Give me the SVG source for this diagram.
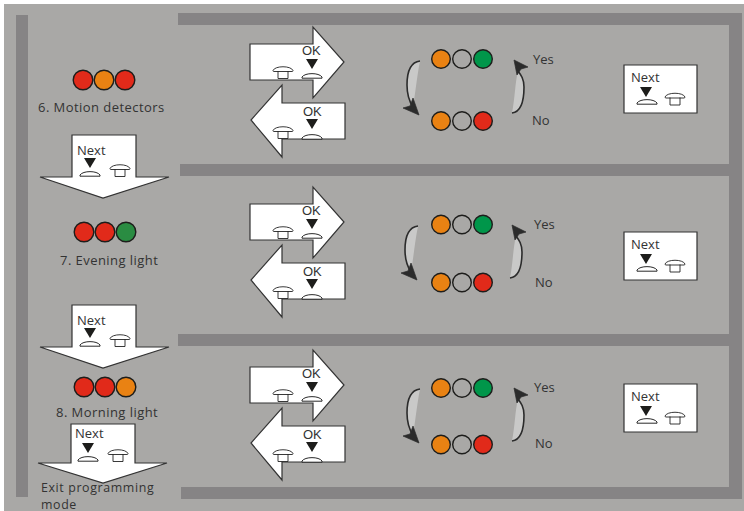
<svg xmlns="http://www.w3.org/2000/svg" width="744" height="511" viewBox="0 0 744 511">
<style>
text{font-family:"Open Sans","Noto Sans",sans-serif;font-size:13px;fill:#333}
.ok{font-family:"Liberation Sans",Arial,sans-serif;font-size:13px}
.lb{letter-spacing:.45px}
.lx{letter-spacing:.62px;font-size:12.400px}
.w{fill:#fff;stroke:#333;stroke-width:1.2}
.b{fill:#fff;stroke:#222;stroke-width:.9}
.d{fill:#fff;stroke:#111;stroke-width:.9}
.t{fill:#1d1d1b}
.h{fill:#2b2b2b;stroke:#2b2b2b;stroke-width:.7;stroke-linejoin:round}
.bar{fill:#868485}
.l{stroke:#1d1d1b;stroke-width:1.4}
.o{fill:#e98213}.r{fill:#e12a1a}.g{fill:#00964a}.dg{fill:#2a8c42}.n{fill:#a9a8a6}
.cr{fill:#c9c9c8}
.st{fill:none;stroke:#2b2b2b;stroke-width:1.6}
</style>
<defs>
<path id="tri" class="t" d="M-6 0H6L0 10Z"/>
<path id="dome" class="d" d="M-10 5C-7 .5 7 .5 10 5V6.200H-10Z"/>
<path id="cap" class="b" d="M-5 5V12.500H5V5M-10 4.500C-8 -.5 8 -.5 10 4.500Q10 5.500 9 5.500H-9Q-10 5.500-10 4.500Z"/>
<g id="next"><path class="w" d="M0 0H73V48H0Z"/><text x="7" y="17">Next</text><use href="#tri" x="22" y="22"/><use href="#dome" x="23" y="33"/><use href="#cap" x="51" y="27.500"/></g>
<g id="pair">
<path class="w" d="M0 17H63V0L94 35L63 71V53H0Z"/>
<path class="w" d="M95 76H32V58L1 93L32 130V112H95Z"/>
<text class="ok" x="52" y="28">OK</text><use href="#tri" x="62" y="32"/><use href="#dome" x="62" y="45"/><use href="#cap" x="33" y="39"/>
<text class="ok" x="53" y="89">OK</text><use href="#tri" x="62" y="92"/><use href="#dome" x="62" y="106"/><use href="#cap" x="33" y="99"/>
</g>
<g id="downarrow"><path class="w" d="M0 0H64V42H97L31 63L-32 42H0Z"/><text x="5" y="20">Next</text><use href="#tri" x="18" y="23"/><use href="#dome" x="18" y="35"/><use href="#cap" x="48" y="29"/></g>
<g id="cw"><path class="cr" d="M0 0C-9 1-13 10-13 24C-13 33-11 40-7 46C-5 35-3 15 0 0Z"/><path class="st" d="M0 0C-9 1-13 10-13 24C-13 33-11 40-7 46"/><path class="h" d="M-1 54L-17 47L-10 45L-7 37Z"/></g>
<g id="ccw"><path class="cr" d="M0 0C8 -1 12 -10 12 -26C12 -34 9 -38 6 -42C3 -30 3 -15 0 0Z"/><path class="st" d="M0 0C8 -1 12 -10 12 -26C12 -34 9 -38 6 -42"/><path class="h" d="M2 -53L16 -46L9 -44L5 -38Z"/></g>
<g id="lamps"><circle class="l o" cx="0" cy="0" r="9.300"/><circle class="l n" cx="21" cy="0" r="9.300"/></g>
</defs>
<rect width="744" height="511" fill="#fff"/>
<rect x="4" y="4" width="740" height="507" fill="#a9a8a6"/>
<g id="frame">
<rect class="bar" x="16" y="15" width="12" height="482"/>
<rect class="bar" x="178" y="13" width="551" height="12"/>
<rect class="bar" x="729" y="13" width="13" height="486"/>
<rect class="bar" x="180" y="164" width="549" height="12"/>
<rect class="bar" x="178" y="334" width="551" height="12"/>
<rect class="bar" x="181" y="487" width="548" height="12"/>
</g>
<g id="connectors">
<use href="#cw" x="420" y="61"/><use href="#ccw" x="512" y="113"/>
<use href="#cw" x="418" y="226"/><use href="#ccw" x="510" y="278"/>
<use href="#cw" x="420" y="389"/><use href="#ccw" x="512" y="441"/>
</g>
<g id="step6">
<circle class="l r" cx="83" cy="80" r="9.800"/><circle class="l o" cx="104" cy="80" r="9.800"/><circle class="l r" cx="125" cy="80" r="9.800"/>
<text class="lb" x="38" y="112">6. Motion detectors</text>
</g>
<use id="next6" href="#downarrow" x="72" y="135"/>
<g id="step7">
<circle class="l r" cx="84" cy="232" r="9.800"/><circle class="l r" cx="105" cy="232" r="9.800"/><circle class="l dg" cx="126" cy="232" r="9.800"/>
<text class="lb" x="60" y="265">7. Evening light</text>
</g>
<use id="next7" href="#downarrow" x="72" y="305"/>
<g id="step8">
<circle class="l r" cx="84" cy="387" r="9.800"/><circle class="l r" cx="105" cy="387" r="9.800"/><circle class="l o" cx="126" cy="387" r="9.800"/>
<text class="lb" x="56" y="417">8. Morning light</text>
</g>
<g id="next8">
<path class="w" d="M71 424H135V463H167L103 483L38 463H71Z"/>
<text x="75" y="438">Next</text><use href="#tri" x="88" y="443"/><use href="#dome" x="88" y="455"/><use href="#cap" x="118" y="449"/>
</g>
<g id="exit"><text class="lx" x="41" y="491.500">Exit programming</text><text class="lx" x="41" y="508.500">mode</text></g>
<g id="row1">
<use href="#pair" x="250" y="27"/>
<use href="#lamps" x="441" y="59"/><circle class="l g" cx="483" cy="59" r="9.300"/>
<use href="#lamps" x="441" y="121"/><circle class="l r" cx="483" cy="121" r="9.300"/>
<text x="533" y="64">Yes</text><text x="532" y="125">No</text>
<use href="#next" x="624" y="65"/>
</g>
<g id="row2">
<use href="#pair" x="250" y="187"/>
<use href="#lamps" x="441" y="224.500"/><circle class="l g" cx="483" cy="224.500" r="9.300"/>
<use href="#lamps" x="441" y="282.500"/><circle class="l r" cx="483" cy="282.500" r="9.300"/>
<text x="534" y="229">Yes</text><text x="535" y="287">No</text>
<use href="#next" x="624" y="232"/>
</g>
<g id="row3">
<use href="#pair" x="250" y="350"/>
<use href="#lamps" x="441" y="388"/><circle class="l g" cx="483" cy="388" r="9.300"/>
<use href="#lamps" x="441" y="444.500"/><circle class="l r" cx="483" cy="444.500" r="9.300"/>
<text x="534" y="392">Yes</text><text x="535" y="448">No</text>
<use href="#next" x="624" y="384"/>
</g>
</svg>
